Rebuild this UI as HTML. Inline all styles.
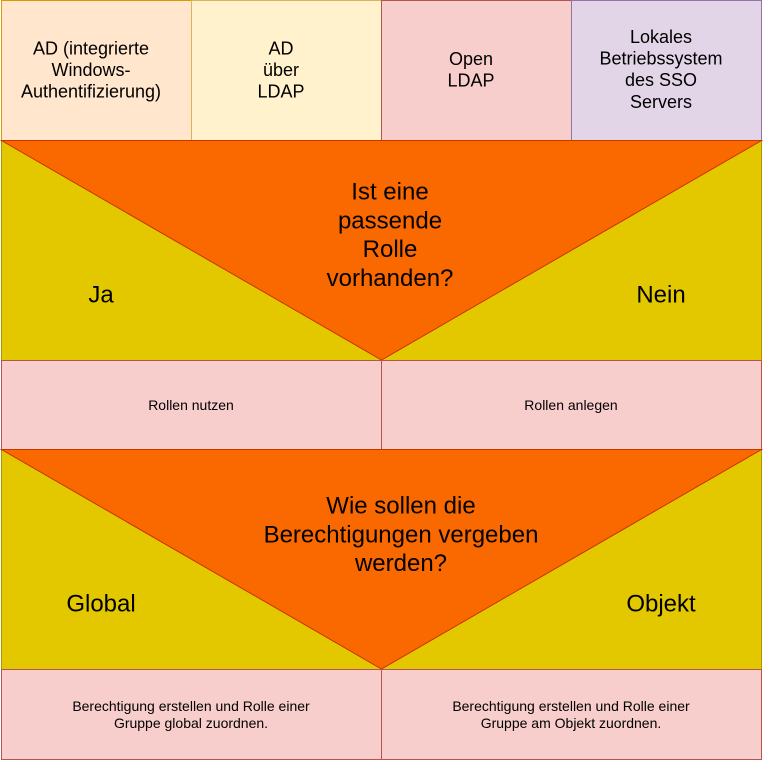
<!DOCTYPE html>
<html><head><meta charset="utf-8"><style>
html,body{margin:0;padding:0;background:#fff;}
svg{display:block;}
text{font-family:"Liberation Sans",Arial,sans-serif;fill:#000;text-anchor:middle;}
</style></head><body>
<svg width="763" height="761" viewBox="0 0 763 761" xmlns="http://www.w3.org/2000/svg">
<!-- top row -->
<rect x="1.5" y="0.5" width="190" height="140" fill="#ffe6cc" stroke="#d79b00"/>
<rect x="191.5" y="0.5" width="190" height="140" fill="#fff2cc" stroke="#d6b656"/>
<rect x="381.5" y="0.5" width="190" height="140" fill="#f8cecc" stroke="#b85450"/>
<rect x="571.5" y="0.5" width="190" height="140" fill="#e1d5e7" stroke="#9673a6"/>
<g font-size="18">
<text x="91" y="54.5">AD (integrierte</text>
<text x="91" y="76">Windows-</text>
<text x="91" y="97.5">Authentifizierung)</text>
<text x="281" y="54.5">AD</text>
<text x="281" y="76">über</text>
<text x="281" y="97.5">LDAP</text>
<text x="471" y="65">Open</text>
<text x="471" y="86.6">LDAP</text>
<text x="661" y="43">Lokales</text>
<text x="661" y="64.6">Betriebssystem</text>
<text x="661" y="86.2">des SSO</text>
<text x="661" y="107.8">Servers</text>
</g>
<!-- first decision -->
<rect x="1.5" y="140.5" width="760" height="220" fill="#e3c800" stroke="#b09500"/>
<polygon points="1.5,140.5 761.5,140.5 381.5,360" fill="#fa6800" stroke="#c73500"/>
<g font-size="24">
<text x="390" y="199.5">Ist eine</text>
<text x="390" y="228.3">passende</text>
<text x="390" y="257.1">Rolle</text>
<text x="390" y="285.9">vorhanden?</text>
<text x="101" y="302.5">Ja</text>
<text x="661" y="302.5">Nein</text>
</g>
<!-- first result -->
<rect x="1.5" y="360.5" width="380" height="89" fill="#f8cecc" stroke="#b85450"/>
<rect x="381.5" y="360.5" width="380" height="89" fill="#f8cecc" stroke="#b85450"/>
<g font-size="14">
<text x="191" y="410">Rollen nutzen</text>
<text x="571" y="410">Rollen anlegen</text>
</g>
<!-- second decision -->
<rect x="1.5" y="449.5" width="760" height="220" fill="#e3c800" stroke="#b09500"/>
<polygon points="1.5,449.5 761.5,449.5 381.5,669" fill="#fa6800" stroke="#c73500"/>
<g font-size="24">
<text x="401" y="513.5">Wie sollen die</text>
<text x="401" y="542.3">Berechtigungen vergeben</text>
<text x="401" y="571.1">werden?</text>
<text x="101" y="611.5">Global</text>
<text x="661" y="611.5">Objekt</text>
</g>
<!-- second result -->
<rect x="1.5" y="669.5" width="380" height="90" fill="#f8cecc" stroke="#b85450"/>
<rect x="381.5" y="669.5" width="380" height="90" fill="#f8cecc" stroke="#b85450"/>
<g font-size="14">
<text x="191" y="711">Berechtigung erstellen und Rolle einer</text>
<text x="191" y="727.8">Gruppe global zuordnen.</text>
<text x="571" y="711">Berechtigung erstellen und Rolle einer</text>
<text x="571" y="727.8">Gruppe am Objekt zuordnen.</text>
</g>
</svg>
</body></html>
